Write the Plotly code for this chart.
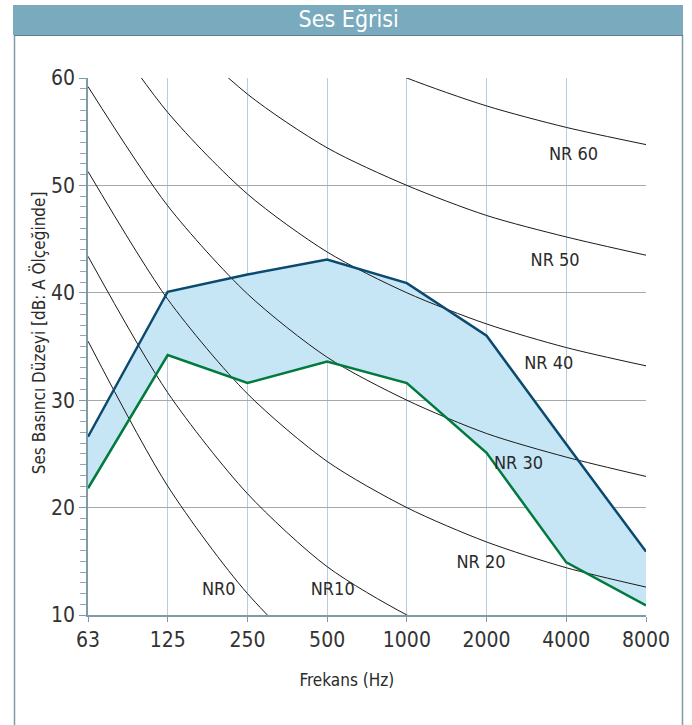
import plotly.graph_objects as go

freq_labels = ["63", "125", "250", "500", "1000", "2000", "4000", "8000"]
x_idx = list(range(len(freq_labels)))

upper = [26.6, 40.1, 41.7, 43.1, 40.9, 36.0, 25.9, 15.9]
lower = [21.8, 34.2, 31.6, 33.6, 31.6, 25.1, 14.9, 10.9]

nr_curves = {
    "NR0":  [35.5, 22.0, 12.0, 4.8, 0.0, -3.5, -6.1, -8.0],
    "NR10": [43.4, 30.7, 21.3, 14.5, 10.0, 6.6, 4.2, 2.3],
    "NR20": [51.3, 39.4, 30.6, 24.3, 20.0, 16.8, 14.4, 12.6],
    "NR30": [59.2, 48.1, 39.9, 34.0, 30.0, 26.9, 24.7, 22.9],
    "NR40": [67.1, 56.8, 49.2, 43.8, 40.0, 37.1, 34.9, 33.2],
    "NR50": [75.0, 65.5, 58.5, 53.5, 50.0, 47.2, 45.2, 43.5],
    "NR60": [82.9, 74.2, 67.8, 63.2, 60.0, 57.4, 55.4, 53.8],
}

nr_labels = ["NR0", "NR10", "NR 20", "NR 30", "NR 40", "NR 50", "NR 60"]
nr_label_x = [1.64, 3.07, 4.93, 5.40, 5.78, 5.86, 6.09]
nr_label_y = [12.3, 12.3, 14.8, 24.0, 33.3, 42.9, 52.8]

FONT = "DejaVu Sans"

fig = go.Figure()

fig.add_trace(go.Scatter(x=x_idx, y=lower, mode="lines", line=dict(width=0, color="rgba(0,0,0,0)"),
                         showlegend=False, hoverinfo="skip"))
fig.add_trace(go.Scatter(x=x_idx, y=upper, mode="lines", line=dict(width=0, color="rgba(0,0,0,0)"),
                         fill="tonexty", fillcolor="#C6E6F6", showlegend=False, hoverinfo="skip"))

for name, vals in nr_curves.items():
    fig.add_trace(go.Scatter(x=x_idx, y=vals, mode="lines",
                             line=dict(color="#1a1a1a", width=1, shape="spline", smoothing=0.8),
                             showlegend=False, name=name))

fig.add_trace(go.Scatter(x=x_idx, y=lower, mode="lines", line=dict(color="#007A3D", width=2.5),
                         showlegend=False))
fig.add_trace(go.Scatter(x=x_idx, y=upper, mode="lines", line=dict(color="#0B4A6F", width=2.5),
                         showlegend=False))

fig.add_trace(go.Scatter(x=nr_label_x, y=nr_label_y, mode="text", text=nr_labels,
                         textfont=dict(family=FONT, size=18, color="#2a2a2a"),
                         showlegend=False, hoverinfo="skip"))

def px_x(p):
    return (p - 88) / 558.0

def px_y(p):
    return (615 - p) / 537.0

shapes = [
    dict(type="rect", xref="paper", yref="paper", x0=px_x(13), x1=px_x(683), y0=px_y(35), y1=px_y(5),
         fillcolor="#7AAABD", line=dict(width=0), layer="below"),
    dict(type="line", xref="paper", yref="paper", x0=px_x(14.5), x1=px_x(14.5), y0=px_y(35), y1=px_y(726),
         line=dict(color="#7F9BA8", width=1.5)),
    dict(type="line", xref="paper", yref="paper", x0=px_x(682.5), x1=px_x(682.5), y0=px_y(35), y1=px_y(726),
         line=dict(color="#7F9BA8", width=1.5)),
    dict(type="line", xref="paper", yref="paper", x0=px_x(14), x1=px_x(683), y0=px_y(35.5), y1=px_y(35.5),
         line=dict(color="#5F7F8E", width=1)),
]

annotations = [
    dict(text="Ses Eğrisi", xref="paper", yref="paper", x=px_x(348), y=px_y(19), showarrow=False,
         font=dict(family=FONT, size=23, color="white"), xanchor="center", yanchor="middle"),
    dict(text="Ses Basıncı Düzeyi [dB: A Ölçeğinde]", xref="paper", yref="paper", x=px_x(38), y=px_y(333),
         showarrow=False, textangle=-90, font=dict(family=FONT, size=17, color="#2a2a2a"),
         xanchor="center", yanchor="middle"),
    dict(text="Frekans (Hz)", xref="paper", yref="paper", x=px_x(347), y=px_y(680), showarrow=False,
         font=dict(family=FONT, size=17, color="#2a2a2a"), xanchor="center", yanchor="middle"),
]

fig.update_layout(
    width=692, height=725,
    margin=dict(l=88, r=46, t=78, b=110),
    paper_bgcolor="white", plot_bgcolor="white",
    shapes=shapes, annotations=annotations,
    font=dict(family=FONT, color="#333333"),
    xaxis=dict(range=[0, 7], tickvals=x_idx, ticktext=freq_labels,
               showgrid=True, gridcolor="#B9CDD8", gridwidth=1.2,
               showline=True, linecolor="#7F9BA8", linewidth=1.5,
               ticks="outside", ticklen=5, tickcolor="#7F9BA8",
               tickfont=dict(family=FONT, size=21, color="#333333"),
               zeroline=False, fixedrange=True),
    yaxis=dict(range=[10, 60], tickvals=[10, 20, 30, 40, 50, 60],
               showgrid=True, gridcolor="#A8A8A8", gridwidth=1.2,
               showline=True, linecolor="#7F9BA8", linewidth=1.5,
               ticks="outside", ticklen=7, tickcolor="#7F9BA8",
               minor=dict(dtick=1, ticks="outside", ticklen=6, tickcolor="#8FA8B4", showgrid=False),
               tickfont=dict(family=FONT, size=21, color="#333333"),
               zeroline=False, fixedrange=True),
)

post = """
var st = document.createElement('style');
st.textContent = 'html,body{margin:0;padding:0;overflow:hidden;} svg text{font-stretch:condensed;}';
document.head.appendChild(st);
"""

fig.write_html("out.html", post_script=post, config={"displayModeBar": False})
